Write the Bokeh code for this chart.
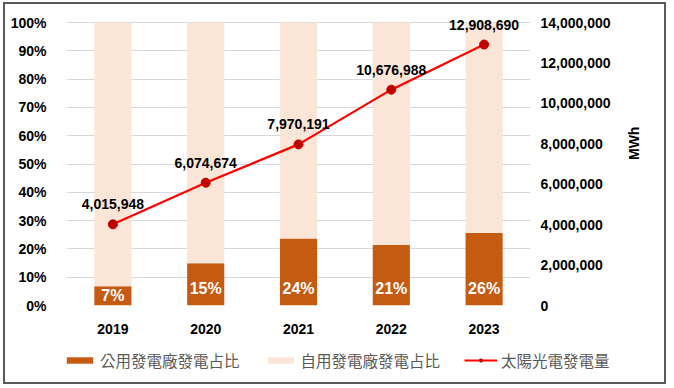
import math
from bokeh.plotting import figure
from bokeh.layouts import column, row
from bokeh.models import (FactorRange, Range1d, LinearAxis, NumeralTickFormatter,
                          Legend, LegendItem, ColumnDataSource, FixedTicker)
from bokeh.core.properties import value
from bokeh.embed import file_html
from bokeh.resources import INLINE

years = ["2019", "2020", "2021", "2022", "2023"]
public_share = [6.8, 14.9, 23.7, 21.4, 25.6]          # % of solar generation by public utilities
public_labels = ["7%", "15%", "24%", "21%", "26%"]
private_share = [100 - v for v in public_share]       # % by self-use plants
solar_mwh = [4015948, 6074674, 7970191, 10676988, 12908690]
left_ticks = [0, 0.1, 0.2, 0.3, 0.4, 0.5, 0.6, 0.7, 0.8, 0.9, 1.0]
right_ticks = [0, 2000000, 4000000, 6000000, 8000000, 10000000, 12000000, 14000000]
series_names = ["公用發電廠發電占比", "自用發電廠發電占比", "太陽光電發電量"]

DARK = "#C55A11"
LIGHT = "#FBE5D6"
LINE = "#FF0000"
MARK = "#C00000"
FONT = value("Liberation Sans")

src = ColumnDataSource(dict(
    year=years,
    pub=[v / 100 for v in public_share],
    one=[1.0] * len(years),
    zero=[0.0] * len(years),
    lab=public_labels,
    laby=[min(v / 2, 6) / 100 for v in public_share],
    mwh=solar_mwh,
    mwh_lab=[f"{v:,}" for v in solar_mwh],
))

# plotting area: 283px for 0..100%, plus 8px of headroom so top labels are not clipped
AXIS_PX, HEAD_PX = 283, 8
stretch = (AXIS_PX + HEAD_PX) / AXIS_PX
p = figure(x_range=FactorRange(*years, range_padding=0), y_range=Range1d(0, stretch),
           frame_width=464, frame_height=AXIS_PX + HEAD_PX,
           min_border_left=61, min_border_right=134, min_border_top=10, min_border_bottom=35,
           output_backend="svg", toolbar_location=None)
p.outline_line_color = None
p.extra_y_ranges = {"mwh": Range1d(0, 14000000 * stretch)}

r_pub = p.vbar(x="year", bottom="zero", top="pub", width=0.4, source=src,
               fill_color=DARK, line_color=None)
r_priv = p.vbar(x="year", bottom="pub", top="one", width=0.4, source=src,
                fill_color=LIGHT, line_color=None)

p.text(x="year", y="laby", text="lab", source=src, text_align="center",
       text_baseline="middle", text_color="white", text_font=FONT,
       text_font_style="bold", text_font_size="16px")

r_line = p.line(x="year", y="mwh", source=src, y_range_name="mwh",
                line_color=LINE, line_width=2.2)
r_pts = p.scatter(x="year", y="mwh", source=src, y_range_name="mwh",
                  size=9, fill_color=MARK, line_color=MARK)
p.text(x="year", y="mwh", text="mwh_lab", source=src, y_range_name="mwh",
       text_align="center", text_baseline="bottom", y_offset=-15,
       text_color="#000000", text_font=FONT, text_font_style="bold",
       text_font_size="14px")

# left axis
ax = p.yaxis[0]
ax.ticker = FixedTicker(ticks=left_ticks)
ax.formatter = NumeralTickFormatter(format="0%")
# right axis
rax = LinearAxis(y_range_name="mwh", axis_label="MWh",
                 ticker=FixedTicker(ticks=right_ticks),
                 formatter=NumeralTickFormatter(format="0,0"))
p.add_layout(rax, "right")

for a in [ax, rax, p.xaxis[0]]:
    a.axis_line_color = None
    a.major_tick_line_color = None
    a.minor_tick_line_color = None
    a.major_label_text_font = "Liberation Sans"
    a.major_label_text_font_style = "bold"
    a.major_label_text_font_size = "14px"
    a.major_label_text_color = "#000000"
    a.major_label_standoff = 14
p.xaxis[0].major_label_standoff = 12
rax.major_label_standoff = 4
rax.axis_label_text_font = "Liberation Sans"
rax.axis_label_text_font_style = "bold"
rax.axis_label_text_font_size = "14px"
rax.axis_label_text_color = "#000000"
rax.axis_label_standoff = 20
if "axis_label_orientation" in rax.properties():
    rax.axis_label_orientation = math.pi / 2

p.xgrid.grid_line_color = None
p.ygrid.grid_line_color = "#D9D9D9"
p.ygrid.grid_line_width = 1

# legend strip below the chart
q = figure(width=659, height=42, x_range=Range1d(0, 1), y_range=Range1d(0, 1),
           min_border=0, x_axis_type=None, y_axis_type=None,
           output_backend="svg", toolbar_location=None)
q.outline_line_color = None
q.xgrid.grid_line_color = None
q.ygrid.grid_line_color = None
nan = float("nan")
blank = ColumnDataSource(dict(x=[nan], y=[nan], b=[nan], t=[nan]))
l_pub = q.vbar(x="x", bottom="b", top="t", width=0.4, source=blank, fill_color=DARK, line_color=None)
l_priv = q.vbar(x="x", bottom="b", top="t", width=0.4, source=blank, fill_color=LIGHT, line_color=None)
l_line = q.line(x="x", y="y", source=blank, line_color=LINE, line_width=2.2)
l_pts = q.scatter(x="x", y="y", source=blank, size=9, fill_color=MARK, line_color=MARK)

legend = Legend(items=[
    LegendItem(label=series_names[0], renderers=[l_pub]),
    LegendItem(label=series_names[1], renderers=[l_priv]),
    LegendItem(label=series_names[2], renderers=[l_line, l_pts]),
], orientation="horizontal", location=(58, 11))
legend.border_line_color = None
legend.background_fill_alpha = 0
legend.padding = 0
legend.margin = 0
legend.spacing = 24
legend.glyph_width = 33
legend.glyph_height = 8
legend.label_height = 16
legend.label_standoff = 4
legend.label_text_font = "Noto Sans CJK TC"
legend.label_text_font_size = "15.5px"
legend.label_text_color = "#595959"
q.add_layout(legend, "center")

if "frame_align" in q.properties():
    q.frame_align = False
    p.frame_align = False
    bottom = q
else:
    bottom = row(q)

layout = column(p, bottom, spacing=0,
                styles={"border": "2px solid #5a5a5a", "margin-left": "3px", "margin-top": "2px"})

open("out.html", "w").write(file_html(layout, INLINE))
